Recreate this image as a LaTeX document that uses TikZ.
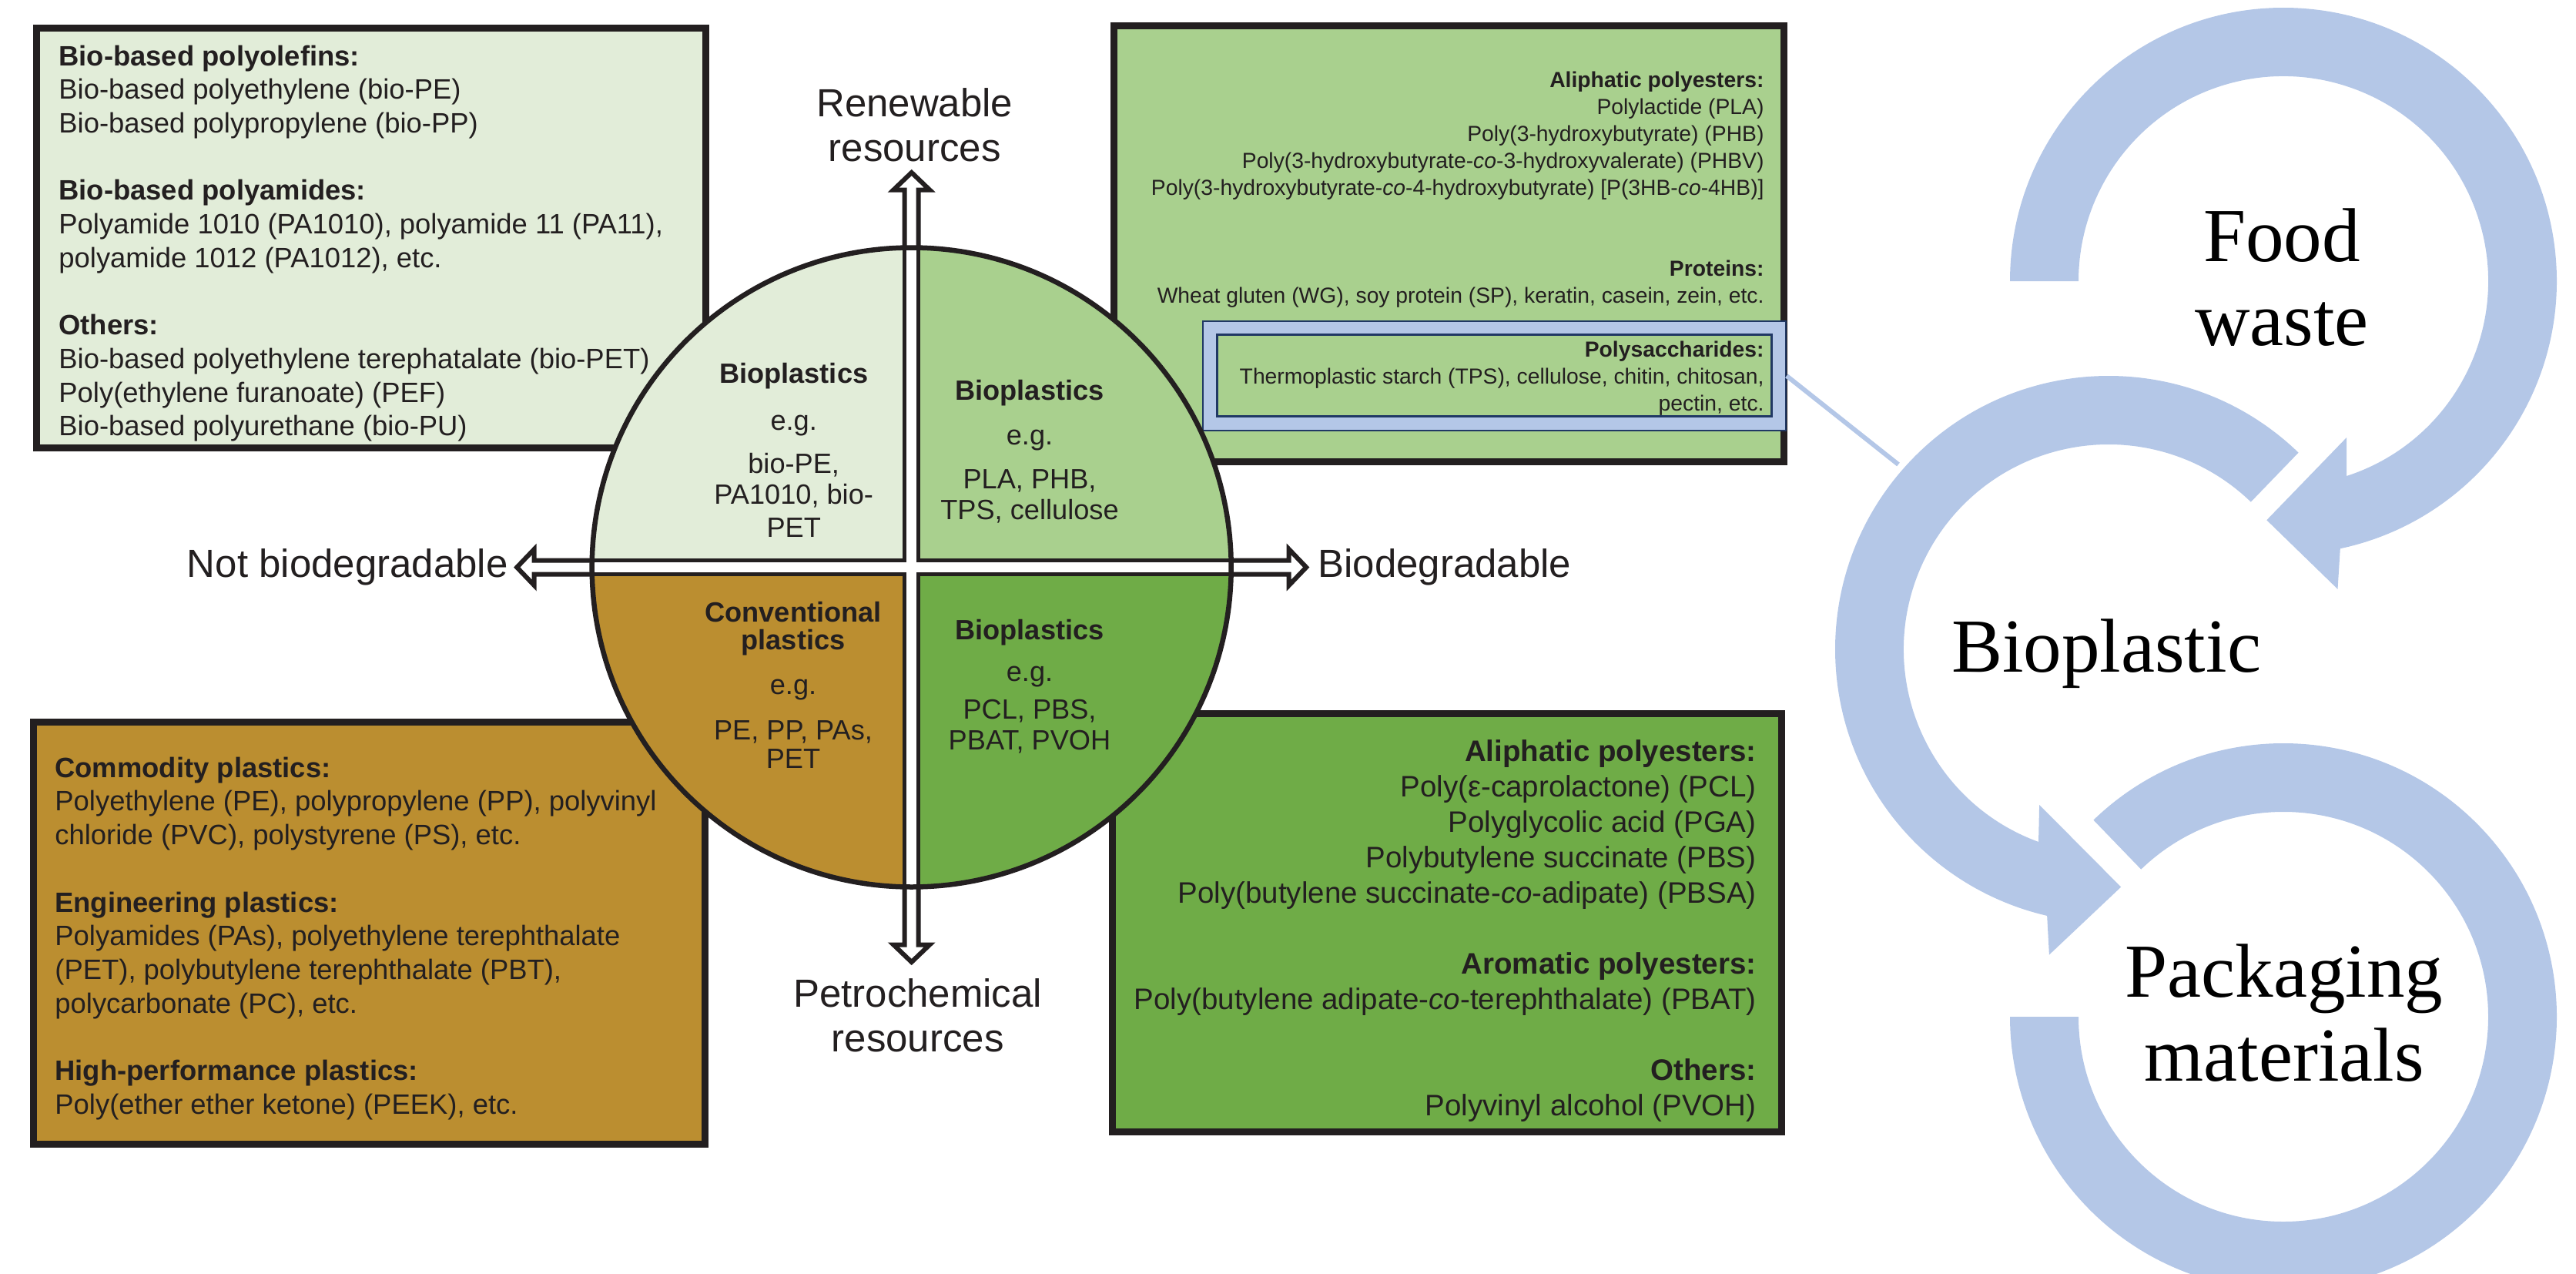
\documentclass[tikz,border=0pt]{standalone}
\usepackage{fontspec}
\setmainfont{Liberation Sans}
\newfontfamily\ringfont{Liberation Serif}
\usepackage{tikz}
\usetikzlibrary{positioning, calc}
\usepackage{xcolor}
\definecolor{ink}{RGB}{35, 31, 32}
\definecolor{palegreen}{RGB}{226, 237, 217}
\definecolor{midgreen}{RGB}{169, 208, 142}
\definecolor{ochre}{RGB}{187, 142, 48}
\definecolor{leafgreen}{RGB}{111, 172, 71}
\definecolor{ringblue}{RGB}{180, 199, 231}
\definecolor{navyline}{RGB}{32, 56, 100}

\begin{document}
\begin{tikzpicture}[
  panel/.style    = {rectangle, draw=ink, line width=0.095cm, inner sep=0pt},
  hilite/.style   = {rectangle, draw=navyline, inner sep=0pt},
  listtxt/.style  = {inner sep=0pt, text=ink, align=left, font=\fontsize{10.36pt}{12.43pt}\selectfont},
  smalltxt/.style = {inner sep=0pt, text=ink, align=right, font=\fontsize{8.05pt}{9.96pt}\selectfont},
  bigtxt/.style   = {inner sep=0pt, text=ink, align=right, font=\fontsize{10.95pt}{13.09pt}\selectfont},
  quadtxt/.style  = {inner sep=0pt, text=ink, align=center, anchor=north, font=\fontsize{10.3pt}{11.4pt}\selectfont},
  axistxt/.style  = {inner sep=0pt, text=ink, align=center, font=\fontsize{14.5pt}{16.5pt}\selectfont},
  ringtxt/.style  = {inner sep=0pt, text=black, align=center, font=\ringfont\fontsize{28.2pt}{31pt}\selectfont},
  quadfill/.style = {draw=ink, line width=0.055cm},
  blockarr/.style = {draw=ink, fill=white, line width=0.06cm, line join=miter},
  ringlink/.style = {draw=ringblue, line width=0.06cm}
]
\useasboundingbox (0,0) rectangle (33.45,-16.54);
\clip (0,0) rectangle (33.45,-16.54);

% corner panels
\node[panel, fill=palegreen, minimum width=8.69cm, minimum height=5.45cm] (renbox) at (4.82,-3.09) {};
\node[panel, fill=midgreen,  minimum width=8.70cm, minimum height=5.66cm] (biobox) at (18.815,-3.165) {};
\node[panel, fill=ochre,     minimum width=8.72cm, minimum height=5.48cm] (petbox) at (4.795,-12.115) {};
\node[panel, fill=leafgreen, minimum width=8.69cm, minimum height=5.43cm] (degbox) at (18.79,-11.98) {};

\node[hilite, fill=ringblue, line width=0.02cm, minimum width=7.57cm, minimum height=1.42cm] (polyfrm) at (19.405,-4.88) {};
\node[hilite, fill=midgreen, line width=0.03cm, minimum width=7.20cm, minimum height=1.06cm] (polyin) at (19.405,-4.875) {};

\node[listtxt, below right=0.264cm and 0.33cm of renbox.north west] (rentxt)
  {\textbf{Bio-based polyolefins:}\\
   Bio-based polyethylene (bio-PE)\\
   Bio-based polypropylene (bio-PP)\\[12.43pt]
   \textbf{Bio-based polyamides:}\\
   Polyamide 1010 (PA1010), polyamide 11 (PA11),\\
   polyamide 1012 (PA1012), etc.\\[12.43pt]
   \textbf{Others:}\\
   Bio-based polyethylene terephatalate (bio-PET)\\
   Poly(ethylene furanoate) (PEF)\\
   Bio-based polyurethane (bio-PU)};
\node[smalltxt, below left=0.634cm and 0.30cm of biobox.north east] (biotxt)
  {\textbf{Aliphatic polyesters:}\\
   Polylactide (PLA)\\
   Poly(3-hydroxybutyrate) (PHB)\\
   Poly(3-hydroxybutyrate-\textit{co}-3-hydroxyvalerate) (PHBV)\\
   Poly(3-hydroxybutyrate-\textit{co}-4-hydroxybutyrate) [P(3HB-\textit{co}-4HB)]\\[19.92pt]
   \textbf{Proteins:}\\
   Wheat gluten (WG), soy protein (SP), keratin, casein, zein, etc.\\[9.96pt]
   \textbf{Polysaccharides:}\\
   Thermoplastic starch (TPS), cellulose, chitin, chitosan,\\
   pectin, etc.};
\node[listtxt, below right=0.494cm and 0.32cm of petbox.north west] (pettxt)
  {\textbf{Commodity plastics:}\\
   Polyethylene (PE), polypropylene (PP), polyvinyl\\
   chloride (PVC), polystyrene (PS), etc.\\[12.43pt]
   \textbf{Engineering plastics:}\\
   Polyamides (PAs), polyethylene terephthalate\\
   (PET), polybutylene terephthalate (PBT),\\
   polycarbonate (PC), etc.\\[12.43pt]
   \textbf{High-performance plastics:}\\
   Poly(ether ether ketone) (PEEK), etc.};
\node[bigtxt, below left=0.377cm and 0.37cm of degbox.north east] (degtxt)
  {\textbf{Aliphatic polyesters:}\\
   Poly(ε-caprolactone) (PCL)\\
   Polyglycolic acid (PGA)\\
   Polybutylene succinate (PBS)\\
   Poly(butylene succinate-\textit{co}-adipate) (PBSA)\\[13.09pt]
   \textbf{Aromatic polyesters:}\\
   Poly(butylene adipate-\textit{co}-terephthalate) (PBAT)\\[13.09pt]
   \textbf{Others:}\\
   Polyvinyl alcohol (PVOH)};

% quadrant disc
\coordinate (ctr) at (11.837,-7.365);
\begin{scope}
  \clip (ctr) circle[radius=4.15cm];
  \foreach \sx/\sy/\col in {-1/1/palegreen, 1/1/midgreen, -1/-1/ochre, 1/-1/leafgreen}
    \draw[quadfill, fill=\col] ($(ctr)+(0.09*\sx,0.09*\sy)$) rectangle ++(4.5*\sx,4.5*\sy);
\end{scope}
\begin{scope}[shift={(ctr)}]
  \foreach \ang in {0,90,180,270}
    \draw[blockarr, rotate=\ang] (4.15,0.09) -- (4.9,0.09) -- (4.9,0.235) -- (5.125,0)
      -- (4.9,-0.235) -- (4.9,-0.09) -- (4.15,-0.09);
\end{scope}
\node[circle, draw=ink, line width=0.065cm, minimum size=8.3cm, inner sep=0pt] (disc) at (ctr) {};

\node[quadtxt] (qren) at ($(ctr)+(-1.53,2.655)$)
  {\textbf{Bioplastics}\\[5.7pt] e.g.\\[4.6pt] bio-PE,\\ PA1010, bio-\\[0.85pt] PET};
\node[quadtxt] (qbio) at ($(ctr)+(1.533,2.435)$)
  {\textbf{Bioplastics}\\[5.1pt] e.g.\\[4.6pt] PLA, PHB,\\ TPS, cellulose};
\node[quadtxt] (qpet) at ($(ctr)+(-1.537,-0.445)$)
  {\textbf{Conventional}\\[-1.4pt] \textbf{plastics}\\[5.1pt] e.g.\\[5.4pt] PE, PP, PAs,\\[-0.85pt] PET};
\node[quadtxt] (qdeg) at ($(ctr)+(1.533,-0.675)$)
  {\textbf{Bioplastics}\\[3.7pt] e.g.\\[2.6pt] PCL, PBS,\\ PBAT, PVOH};

\coordinate (tipN) at ($(ctr)+(0,5.16)$);
\coordinate (tipS) at ($(ctr)+(0,-5.16)$);
\coordinate (tipW) at ($(ctr)+(-5.16,0)$);
\coordinate (tipE) at ($(ctr)+(5.16,0)$);
\node[axistxt, above=0.1cm of tipN, xshift=0.04cm] (renew) {Renewable\\resources};
\node[axistxt, below=0.17cm of tipS, xshift=0.08cm] (petro) {Petrochemical\\resources};
\node[axistxt, left=0.075cm of tipW] (nondeg) {Not biodegradable};
\node[axistxt, right=0.11cm of tipE] (degr) {Biodegradable};

% cycle of rings
\coordinate (foodC) at (29.65,-3.65);
\coordinate (bioC)  at (27.38,-8.43);
\coordinate (packC) at (29.65,-13.2);
\fill[ringblue, shift={(foodC)}] (180:3.55) arc[start angle=180, end angle=-78, radius=3.55]
  -- (-80:4.06) -- (-94:3.11) -- (-68:2.19) -- (-72:2.66)
  arc[start angle=-72, end angle=180, radius=2.66] -- cycle;
\fill[ringblue, shift={(bioC)}] (46:3.55) arc[start angle=46, end angle=257, radius=3.55]
  -- (259:4.04) -- (273:3.09) -- (246:2.21) -- (250:2.66)
  arc[start angle=250, end angle=46, radius=2.66] -- cycle;
\fill[ringblue, shift={(packC)}] (134:3.55) arc[start angle=134, end angle=-180, radius=3.55]
  -- (180:2.66) arc[start angle=-180, end angle=134, radius=2.66] -- cycle;

\node[ringtxt] (food) at ($(foodC)+(-0.02,0.05)$) {Food\\waste};
\node[ringtxt] (bioplast) at ($(bioC)+(-0.03,-0.06)$) {Bioplastic};
\node[ringtxt] (pack) at ($(packC)+(0.01,0.05)$) {Packaging\\materials};

\coordinate (ringhit) at (24.65,-6.03);
\draw[ringlink] (polyfrm.east) -- (ringhit);
\end{tikzpicture}
\end{document}
